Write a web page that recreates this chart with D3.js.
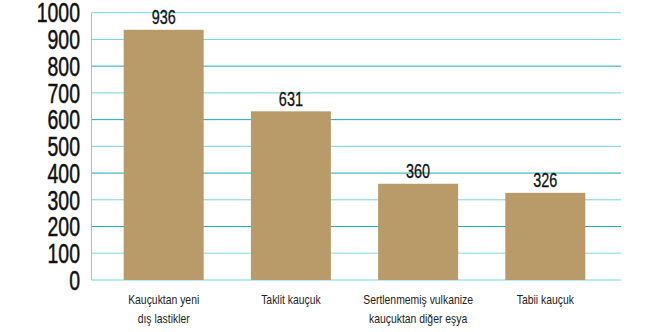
<head>
	<script src="https://d3js.org/d3.v7.min.js"></script>
	<style>
		body { margin: 0; background: #fff; }
		text { font-family: 'Liberation Sans', Arial, sans-serif; }
	</style>
</head>
<body>
	<div id='chart'></div>
	<script type="text/javascript">
		const categories = [['Kauçuktan yeni', 'dış lastikler'], ['Taklit kauçuk'], ['Sertlenmemiş vulkanize', 'kauçuktan diğer eşya'], ['Tabii kauçuk']]
		const values = [936, 631, 360, 326]
		const ticks = [0, 100, 200, 300, 400, 500, 600, 700, 800, 900, 1000]

		const w = 645, h = 332
		const m = {t:12.7, r:24, b:52, l:91.5}

		const svg = d3.select('#chart').append('svg')
			.attr('width', w)
			.attr('height', h)

		const sX = d3.scaleBand()
			.domain(d3.range(values.length))
			.range([m.l, 617.5])
			.paddingInner(0.371)
			.paddingOuter(0.253)

		const sY = d3.scaleLinear()
			.domain([0, 1000])
			.range([h - m.b, m.t])

		function gridColor(d) {
			if (d == 100) return '#a9e6ef'
			if (d % 200 == 0 && d > 0 && d < 1000) return '#17abc2'
			return '#6fd4e3'
		}

		// gridlines
		svg.append('g')
			.selectAll('line')
			.data(ticks)
			.enter()
			.append('line')
			.attr('x1', m.l)
			.attr('x2', w - m.r)
			.attr('y1', d => sY(d))
			.attr('y2', d => sY(d))
			.style('stroke', d => gridColor(d))
			.style('stroke-width', d => d == 100 ? 1.6 : 1)

		// left axis line
		svg.append('line')
			.attr('x1', m.l).attr('x2', m.l)
			.attr('y1', sY(1000)).attr('y2', sY(0))
			.style('stroke', '#6fd4e3')

		// y tick labels (condensed by horizontal scale)
		svg.append('g')
			.selectAll('text')
			.data(ticks)
			.enter()
			.append('text')
			.attr('transform', d => 'translate(80,' + sY(d) + ') scale(0.72,1)')
			.attr('dy', '0.36em')
			.attr('text-anchor', 'end')
			.style('font-size', '27px')
			.style('fill', '#111')
			.style('stroke', '#111')
			.style('stroke-width', 0.5)
			.text(d => d)

		// bars
		svg.append('g')
			.selectAll('rect')
			.data(values)
			.enter()
			.append('rect')
			.attr('x', (d, i) => sX(i))
			.attr('y', d => sY(d))
			.attr('width', sX.bandwidth())
			.attr('height', d => sY(0) - sY(d))
			.style('fill', '#b99a69')

		// value labels
		svg.append('g')
			.selectAll('text')
			.data(values)
			.enter()
			.append('text')
			.attr('transform', (d, i) => 'translate(' + (sX(i) + sX.bandwidth() / 2) + ',' + (sY(d) - 5.5) + ') scale(0.74,1)')
			.attr('text-anchor', 'middle')
			.style('font-size', '19.5px')
			.style('fill', '#111')
			.style('stroke', '#111')
			.style('stroke-width', 0.3)
			.text(d => d)

		// category labels
		svg.append('g')
			.selectAll('g')
			.data(categories)
			.enter()
			.append('g')
			.attr('transform', (c, i) => 'translate(' + (sX(i) + sX.bandwidth() / 2) + ',304) scale(0.8,1)')
			.each(function(c) {
				d3.select(this).selectAll('text')
					.data(c)
					.enter()
					.append('text')
					.attr('y', (t, j) => j * 19)
					.attr('text-anchor', 'middle')
					.style('font-size', '13px')
					.style('fill', '#222')
					.text(t => t)
			})
	</script>
</body>
